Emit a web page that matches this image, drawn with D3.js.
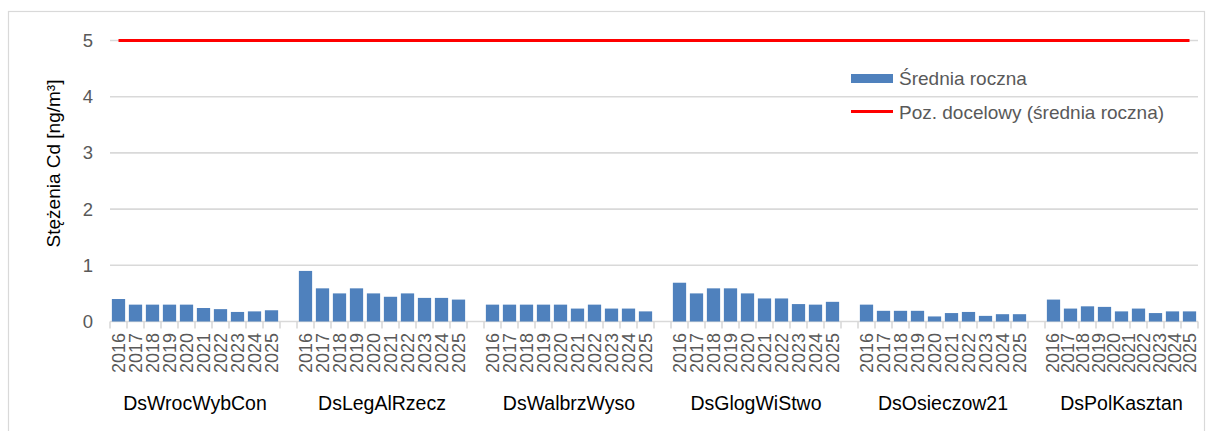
<!DOCTYPE html>
<html>
<head>
<meta charset="utf-8">
<script src="https://cdn.jsdelivr.net/npm/d3@7"></script>
<style>
  body { margin: 0; background: #fff; }
  svg { display: block; font-family: "Liberation Sans", Arial, sans-serif; }
</style>
</head>
<body>
<svg id="chart" width="1214" height="431"></svg>
<script>
// Stations and years on the two-level category axis
const stations = ["DsWrocWybCon", "DsLegAlRzecz", "DsWalbrzWyso", "DsGlogWiStwo", "DsOsieczow21", "DsPolKasztan"];
const years = ["2016", "2017", "2018", "2019", "2020", "2021", "2022", "2023", "2024", "2025"];

// Annual mean Cd concentrations [ng/m3] per station
const wrocWybCon   = [0.40, 0.30, 0.30, 0.30, 0.30, 0.24, 0.22, 0.17, 0.18, 0.20];
const legAlRzecz   = [0.90, 0.59, 0.50, 0.59, 0.50, 0.44, 0.50, 0.42, 0.42, 0.39];
const walbrzWyso   = [0.30, 0.30, 0.30, 0.30, 0.30, 0.23, 0.30, 0.23, 0.23, 0.18];
const glogWiStwo   = [0.69, 0.50, 0.59, 0.59, 0.50, 0.41, 0.41, 0.31, 0.30, 0.35];
const osieczow21   = [0.30, 0.19, 0.19, 0.19, 0.09, 0.15, 0.17, 0.10, 0.13, 0.13];
const polKasztan   = [0.39, 0.23, 0.27, 0.26, 0.18, 0.23, 0.15, 0.18, 0.18];
const annualMeans = [wrocWybCon, legAlRzecz, walbrzWyso, glogWiStwo, osieczow21, polKasztan];

// Target value (annual mean)
const targetValue = 5;
const yTicks = [0, 1, 2, 3, 4, 5];

const legendLabels = ["Średnia roczna", "Poz. docelowy (średnia roczna)"];
const yTitle = "Stężenia Cd [ng/m³]";

const barColor = "#4f81bd";
const targetColor = "#ff0000";
const gridColor = "#d9d9d9";
const tickTextColor = "#595959";

const svg = d3.select("#chart");
const plot = { left: 110, right: 1198, top: 40.5, bottom: 321.5 };

// Flat list of category slots: each station's years followed by an empty slot
const slots = [];
stations.forEach((s, i) => {
  annualMeans[i].forEach((v, j) => slots.push({ key: s + "|" + years[j], station: s, year: years[j], value: v }));
  if (i < stations.length - 1) slots.push({ key: "gap" + i, gap: true });
});
const bars = slots.filter(d => !d.gap);

const x = d3.scaleBand().domain(slots.map(d => d.key)).range([plot.left, plot.right]);
const y = d3.scaleLinear().domain([0, 5]).range([plot.bottom, plot.top]);
const step = x.step();
const barWidth = step * 0.78;

// Chart frame
svg.append("rect")
  .attr("x", 8.5).attr("y", 11.5).attr("width", 1196).attr("height", 440)
  .attr("fill", "none").attr("stroke", gridColor).attr("stroke-width", 1.2);

// Horizontal gridlines
svg.append("g").selectAll("line").data(yTicks).join("line")
  .attr("x1", plot.left).attr("x2", plot.right)
  .attr("y1", d => y(d)).attr("y2", d => y(d))
  .attr("stroke", gridColor).attr("stroke-width", 1.6);

// Y tick labels
svg.append("g").selectAll("text").data(yTicks).join("text")
  .attr("x", 93).attr("y", d => y(d))
  .attr("text-anchor", "end").attr("dominant-baseline", "central")
  .attr("fill", tickTextColor).attr("font-size", 18.5)
  .text(d => d);

// Y axis title
svg.append("text")
  .attr("transform", "translate(53.5,163.5) rotate(-90)")
  .attr("text-anchor", "middle").attr("dominant-baseline", "central")
  .attr("fill", "#000").attr("font-size", 19)
  .text(yTitle);

// Category tick marks at every slot boundary
const tickXs = slots.map(d => x(d.key)).concat([plot.right]);
svg.append("g").selectAll("line").data(tickXs).join("line")
  .attr("x1", d => d).attr("x2", d => d)
  .attr("y1", plot.bottom).attr("y2", plot.bottom + 7)
  .attr("stroke", gridColor).attr("stroke-width", 1.6);

// Bars
svg.append("g").selectAll("rect").data(bars).join("rect")
  .attr("x", d => x(d.key) + (step - barWidth) / 2)
  .attr("width", barWidth)
  .attr("y", d => y(d.value))
  .attr("height", d => y(0) - y(d.value))
  .attr("fill", barColor);

// Target line across all categories
const firstKey = slots[0].key, lastKey = slots[slots.length - 1].key;
svg.append("path")
  .datum([firstKey, lastKey])
  .attr("d", d3.line().x(k => x(k) + step / 2).y(() => y(targetValue)))
  .attr("stroke", targetColor).attr("stroke-width", 3).attr("fill", "none");

// Year labels and station labels per group
stations.forEach((s, i) => {
  const groupSlots = bars.filter(d => d.station === s);
  const start = x(groupSlots[0].key);
  const end = x(groupSlots[groupSlots.length - 1].key) + step;
  const yp = d3.scalePoint().domain(years).range([start, end]).padding(0.5);
  const g = svg.append("g");
  g.selectAll("text").data(years).join("text")
    .attr("transform", d => `translate(${yp(d)},333) rotate(-90)`)
    .attr("text-anchor", "end").attr("dominant-baseline", "central")
    .attr("fill", tickTextColor).attr("font-size", 18)
    .text(d => d);
  g.append("text")
    .attr("x", (start + end) / 2).attr("y", 410)
    .attr("text-anchor", "middle")
    .attr("fill", "#000").attr("font-size", 19.5)
    .text(s);
});

// Legend
const legend = svg.append("g");
legend.append("rect").attr("x", 851).attr("y", 74).attr("width", 42).attr("height", 9).attr("fill", barColor);
legend.append("line").attr("x1", 851).attr("x2", 893).attr("y1", 111.5).attr("y2", 111.5)
  .attr("stroke", targetColor).attr("stroke-width", 3);
legend.selectAll("text").data(legendLabels).join("text")
  .attr("x", 899).attr("y", (d, i) => 85 + i * 33.5)
  .attr("fill", tickTextColor).attr("font-size", 19)
  .text(d => d);
</script>
</body>
</html>
